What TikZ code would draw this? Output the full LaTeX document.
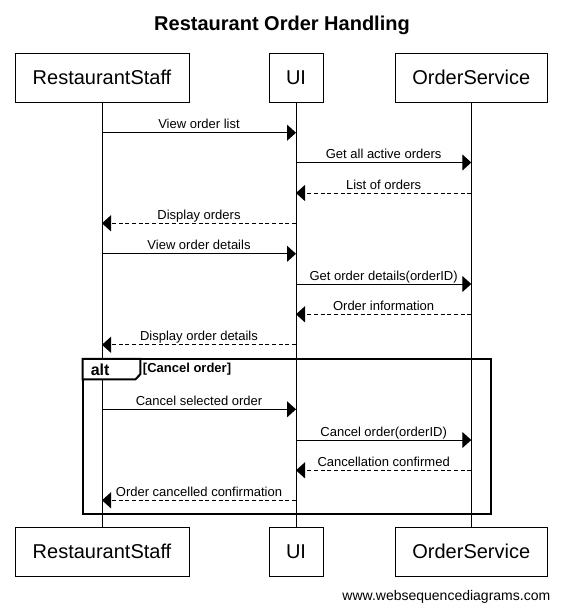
\documentclass[tikz,border=0pt]{standalone}
\usepackage{fontspec}
\setmainfont{Liberation Sans}
\usetikzlibrary{arrows.meta}
\tikzset{
  px/.style={x=0.75pt,y=-0.75pt},
  actor/.style={draw,line width=0.75pt,minimum height=36.75pt,inner sep=0pt,font=\fontsize{15}{18}\selectfont,fill=white},
  lifeline/.style={line width=0.75pt},
  call/.style={line width=0.75pt,-{Triangle[length=6.75pt,width=12pt]}},
  reply/.style={call,dash pattern=on 3pt off 2pt},
  msglbl/.style={midway,anchor=base,yshift=3pt,inner sep=0pt,font=\fontsize{9.75}{11}\selectfont},
  frame/.style={line width=1.5pt},
}
\newcommand\seqmsg[5]{\draw[#1] (#2 |- 0,#4) -- (#3 |- 0,#4) node[msglbl]{#5};}
\begin{document}
\begin{tikzpicture}[px]
\useasboundingbox (0,0) rectangle (562,611);
\fill[white] (0,0) rectangle (562,611);
% title
\node[anchor=base,font=\bfseries\fontsize{15}{18}\selectfont,inner sep=0pt] (title) at (282,30) {Restaurant Order Handling};
% actors top
\node[actor,minimum width=130.5pt] (rsT) at (102,77.6) {RestaurantStaff};
\node[actor,minimum width=40.5pt] (uiT) at (296,77.6) {UI};
\node[actor,minimum width=114pt] (osT) at (471.3,77.6) {OrderService};
% actors bottom
\node[actor,minimum width=130.5pt] (rsB) at (102,551.7) {RestaurantStaff};
\node[actor,minimum width=40.5pt] (uiB) at (296,551.7) {UI};
\node[actor,minimum width=114pt] (osB) at (471.3,551.7) {OrderService};
% lifelines
\draw[lifeline] (rsT) -- (rsB);
\draw[lifeline] (uiT) -- (uiB);
\draw[lifeline] (osT) -- (osB);
% messages
\seqmsg{call}{rsT}{uiT}{132.7}{View order list}
\seqmsg{call}{uiT}{osT}{162.5}{Get all active orders}
\seqmsg{reply}{osT}{uiT}{193}{List of orders}
\seqmsg{reply}{uiT}{rsT}{223.3}{Display orders}
\seqmsg{call}{rsT}{uiT}{253.8}{View order details}
\seqmsg{call}{uiT}{osT}{284}{Get order details(orderID)}
\seqmsg{reply}{osT}{uiT}{314.3}{Order information}
\seqmsg{reply}{uiT}{rsT}{344.8}{Display order details}
% alt fragment
\draw[frame] (82.7,358.8) rectangle (491,513.6);
\filldraw[frame,fill=white] (82.7,358.8) -- (140.3,358.8) -- (140.3,374.2) -- (135.5,379.3) -- (82.7,379.3) -- cycle;
\node[anchor=base west,inner sep=0pt,font=\bfseries\fontsize{12}{14}\selectfont] (altlbl) at (90.5,375) {alt};
\node[anchor=base west,inner sep=0pt,font=\bfseries\fontsize{9.75}{11}\selectfont] (guard) at (142.7,372.5) {[Cancel order]};
\seqmsg{call}{rsT}{uiT}{409.3}{Cancel selected order}
\seqmsg{call}{uiT}{osT}{440}{Cancel order(orderID)}
\seqmsg{reply}{osT}{uiT}{470.3}{Cancellation confirmed}
\seqmsg{reply}{uiT}{rsT}{500.3}{Order cancelled confirmation}
% watermark
\node[anchor=base east,inner sep=0pt,font=\fontsize{10.5}{12}\selectfont] (wm) at (550.5,600) {www.websequencediagrams.com};
\end{tikzpicture}
\end{document}
